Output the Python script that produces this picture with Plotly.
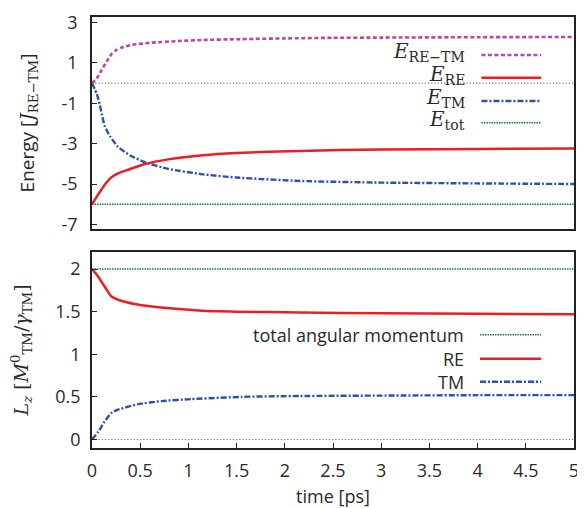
import plotly.graph_objects as go

# ---------------- data ----------------
# top panel: energies
time_ertm = [0, 0.05, 0.10, 0.15, 0.20, 0.25, 0.31, 0.41, 0.62, 0.90, 1.15, 1.5, 2.0, 2.5, 3.0, 4.0, 5.0]
e_re_tm = [0, 0.23, 0.64, 1.05, 1.42, 1.63, 1.76, 1.89, 2.0, 2.08, 2.13, 2.17, 2.21, 2.24, 2.25, 2.27, 2.28]

time_ere = [0, 0.06, 0.13, 0.20, 0.27, 0.38, 0.55, 0.79, 1.15, 1.5, 2.16, 3.0, 4.0, 5.0]
e_re = [-6.0, -5.55, -5.05, -4.67, -4.47, -4.28, -4.01, -3.78, -3.57, -3.46, -3.36, -3.29, -3.26, -3.24]

time_etm = [0, 0.05, 0.08, 0.10, 0.13, 0.19, 0.27, 0.4, 0.55, 0.79, 1.15, 1.5, 2.16, 3.0, 4.0, 5.0]
e_tm = [0, -0.55, -1.05, -1.5, -2.1, -2.66, -3.16, -3.6, -3.92, -4.25, -4.52, -4.68, -4.85, -4.93, -4.97, -5.0]

time_etot = [0, 5]
e_tot = [-6.0, -6.0]

# bottom panel: angular momentum
time_ltot = [0, 5]
l_tot = [2.0, 2.0]

time_lre = [0, 0.046, 0.1, 0.15, 0.2, 0.27, 0.44, 0.62, 0.9, 1.15, 1.5, 2.16, 3.0, 4.0, 5.0]
l_re = [2.0, 1.94, 1.85, 1.76, 1.68, 1.64, 1.59, 1.56, 1.53, 1.51, 1.50, 1.49, 1.48, 1.475, 1.47]

time_ltm = [0, 0.065, 0.13, 0.2, 0.27, 0.48, 0.72, 1.03, 1.55, 2.16, 3.0, 4.0, 5.0]
l_tm = [0, 0.09, 0.21, 0.31, 0.35, 0.415, 0.45, 0.474, 0.5, 0.51, 0.515, 0.52, 0.52]

time_zero = [0, 5]
zero_level = [0, 0]

x_ticks = [0, 0.5, 1, 1.5, 2, 2.5, 3, 3.5, 4, 4.5, 5]
x_ticklabels = ["0", "0.5", "1", "1.5", "2", "2.5", "3", "3.5", "4", "4.5", "5"]
top_yticks = [-7, -5, -3, -1, 1, 3]
top_yticklabels = ["-7", "-5", "-3", "-1", "1", "3"]
bot_yticks = [0, 0.5, 1, 1.5, 2]
bot_yticklabels = ["0", "0.5", "1", "1.5", "2"]

top_legend = ["<i>E</i><sub>RE−TM</sub>", "<i>E</i><sub>RE</sub>", "<i>E</i><sub>TM</sub>", "<i>E</i><sub>tot</sub>"]
bot_legend = ["total angular momentum", "RE", "TM"]

# ---------------- styles ----------------
MAG = "#bd45a4"
RED = "#ee1c25"
BLUE = "#3050a8"
GREEN = "#1e7d3c"
GRAY = "#777777"
SANS = "'Open Sans', Lato, sans-serif"
SERIF = "'DejaVu Serif', 'Liberation Serif', serif"
TXT = "#2a2a2a"

st_rtm = dict(color=MAG, width=2.6, dash="4px,2.5px")
st_re = dict(color=RED, width=2.5)
st_tm = dict(color=BLUE, width=2.4, dash="6px,2px,2px,2px")
st_tot = dict(color=GREEN, width=1.6, dash="1.5px,1px")
st_zero = dict(color=GRAY, width=1.2, dash="1.2px,2px")

fig = go.Figure()

def add(x, y, st, xa, ya):
    fig.add_trace(go.Scatter(x=x, y=y, mode="lines", line=dict(shape="spline", smoothing=0.5, **st),
                             xaxis=xa, yaxis=ya, showlegend=False, hoverinfo="skip"))

# top
add(time_zero, zero_level, st_zero, "x", "y")
add(time_etot, e_tot, st_tot, "x", "y")
add(time_etm, e_tm, st_tm, "x", "y")
add(time_ere, e_re, st_re, "x", "y")
add(time_ertm, e_re_tm, st_rtm, "x", "y")
# bottom
add(time_zero, zero_level, st_zero, "x2", "y2")
add(time_ltot, l_tot, st_tot, "x2", "y2")
add(time_ltm, l_tm, st_tm, "x2", "y2")
add(time_lre, l_re, st_re, "x2", "y2")

# ---------------- manual legends (text left, sample right) ----------------
shapes = []
annotations = []
top_styles = [st_rtm, st_re, st_tm, st_tot]
top_rows = [0.833, 0.725, 0.616, 0.513]
for lab, st, yy in zip(top_legend, top_styles, top_rows):
    annotations.append(dict(xref="x domain", yref="y domain", x=0.777, y=yy, text=lab,
                            showarrow=False, xanchor="right", yanchor="middle",
                            font=dict(family=SERIF, size=20, color=TXT)))
    shapes.append(dict(type="line", xref="x domain", yref="y domain", x0=0.808, x1=0.932,
                       y0=yy - 0.012, y1=yy - 0.012,
                       line=dict(color=st["color"], width=st["width"], dash=st.get("dash", "solid"))))

bot_styles = [st_tot, st_re, st_tm]
bot_rows = [0.578, 0.455, 0.338]
for lab, st, yy in zip(bot_legend, bot_styles, bot_rows):
    annotations.append(dict(xref="x2 domain", yref="y2 domain", x=0.775, y=yy, text=lab,
                            showarrow=False, xanchor="right", yanchor="middle",
                            font=dict(family=SANS, size=18, color=TXT)))
    shapes.append(dict(type="line", xref="x2 domain", yref="y2 domain", x0=0.805, x1=0.932,
                       y0=yy, y1=yy,
                       line=dict(color=st["color"], width=st["width"], dash=st.get("dash", "solid"))))

axis_common = dict(showline=True, linecolor="#222", linewidth=1.6, mirror=True, automargin=False,
                   showgrid=False, zeroline=False, ticks="inside", ticklen=5, tickwidth=1.2,
                   tickcolor="#222", tickfont=dict(family=SANS, size=18, color=TXT))

# the page body adds an 8px offset, so the figure is 8px smaller and margins are shifted
fig.update_layout(
    width=577, height=500,
    margin=dict(l=84, r=11, t=9, b=60),
    paper_bgcolor="white", plot_bgcolor="white",
    showlegend=False,
    xaxis=dict(axis_common, domain=[0, 1], range=[0, 5], anchor="y", showticklabels=False,
               ticks="", matches="x2"),
    yaxis=dict(axis_common, domain=[0.508, 1], range=[-7.23, 3.27], tickvals=top_yticks,
               ticktext=top_yticklabels, anchor="x", ticklabelstandoff=9,
               title=dict(text="Energy [<span style='font-family:DejaVu Serif'><i>J</i><sub>RE−TM</sub></span>]",
                          font=dict(family=SANS, size=19, color=TXT), standoff=22)),
    xaxis2=dict(axis_common, domain=[0, 1], range=[0, 5], anchor="y2", tickvals=x_ticks,
                ticktext=x_ticklabels, ticklabelstandoff=6,
                title=dict(text="time [ps]", font=dict(family=SANS, size=18, color=TXT), standoff=10)),
    yaxis2=dict(axis_common, domain=[0, 0.4548], range=[-0.1, 2.2], tickvals=bot_yticks,
                ticktext=bot_yticklabels, anchor="x2", ticklabelstandoff=6,
                title=dict(text="<i>L<sub>z</sub></i> [<i>M</i><sup>0</sup><sub>TM</sub>/<i>γ</i><sub>TM</sub>]",
                           font=dict(family=SERIF, size=19, color=TXT), standoff=22)),
    shapes=shapes,
    annotations=annotations,
)

fig.write_html("out.html")
